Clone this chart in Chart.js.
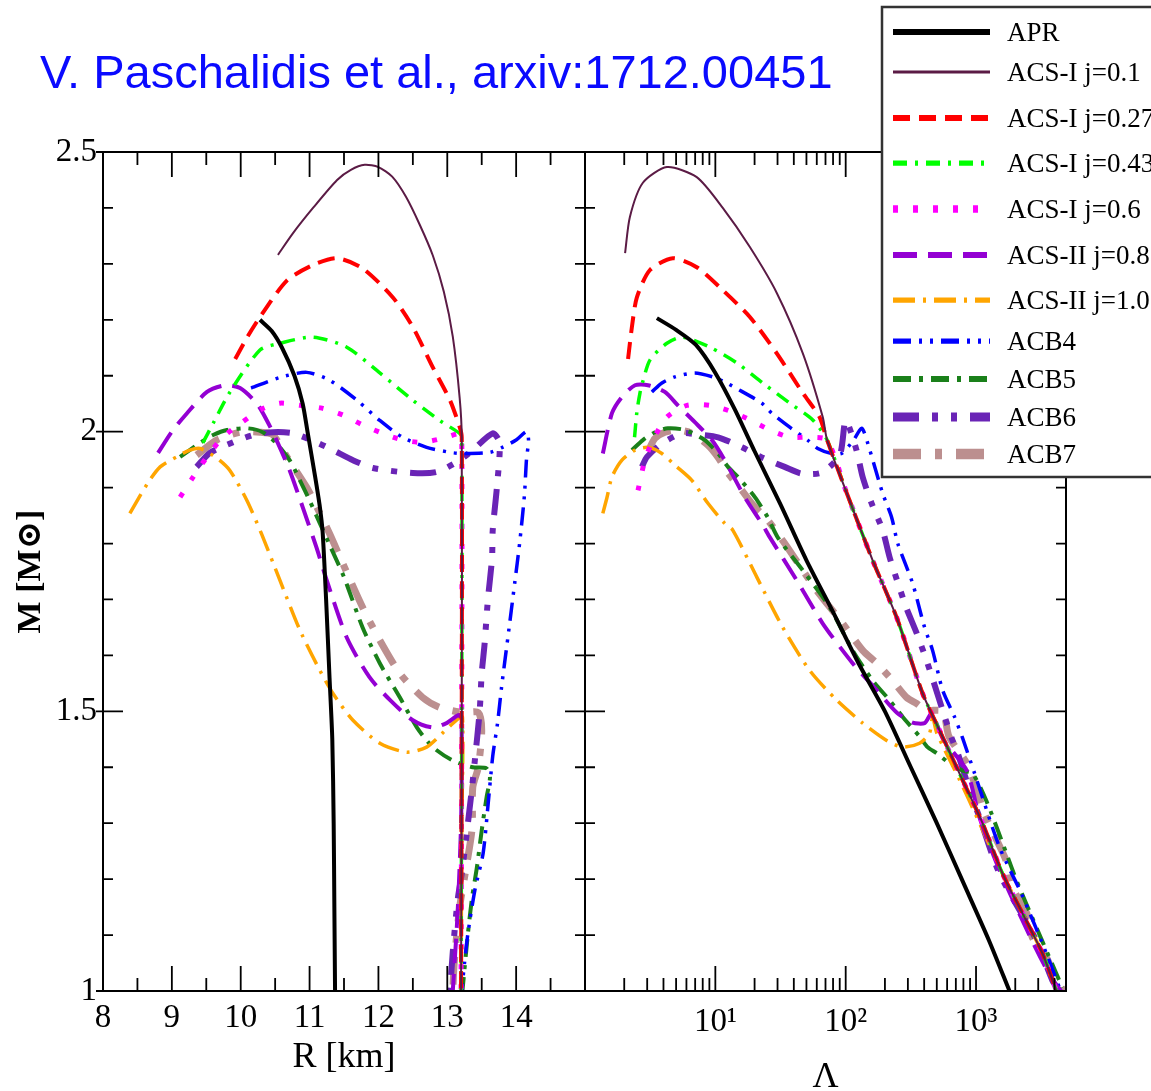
<!DOCTYPE html>
<html>
<head>
<meta charset="utf-8">
<script src="https://cdn.jsdelivr.net/npm/chart.js@4.4.1/dist/chart.umd.min.js"></script>
<style>
  html, body { margin: 0; padding: 0; background: #fff; }
  body { width: 1151px; height: 1091px; position: relative; overflow: hidden; }
  #ref { position: absolute; left: 40px; top: 47px; font: 47px 'Liberation Sans', Arial, sans-serif; line-height: 50px; color: #0a0aff; white-space: nowrap; }
  #left { position: absolute; left: 0; top: 0; }
  #right { position: absolute; left: 500px; top: 0; }
</style>
</head>
<body>
<canvas id="left" width="600" height="1091"></canvas>
<canvas id="right" width="651" height="1091"></canvas>
<div id="ref">V. Paschalidis et al., arxiv:1712.00451</div>
<script>
// series names and styles
const names = ['APR', 'ACS-I j=0.1', 'ACS-I j=0.27', 'ACS-I j=0.43', 'ACS-I j=0.6',
  'ACS-II j=0.8', 'ACS-II j=1.0', 'ACB4', 'ACB5', 'ACB6', 'ACB7'];
const colors = ['#000000', '#5b1b45', '#ff0000', '#00ff00', '#ff00ff',
  '#9400d3', '#ffa500', '#0000ff', '#1a801a', '#6a24b6', '#bc8f8f'];
const widths = [4, 2, 4, 3.5, 5, 4, 3.5, 3.5, 4, 6, 7];
const dashes = [[], [], [17, 9], [14, 8, 3, 8], [5, 15], [24, 11], [22, 8, 3, 8],
  [18, 8, 3, 8, 3, 8], [18, 8, 4, 8], [26, 13, 6, 13, 6, 13], [28, 14, 7, 14]];

// axis ranges
const rMin = 8, rMax = 15;
const lamMin = 1, lamMax = 4900;
const mMin = 1, mMax = 2.5;

// ---- left panel: [R (km), M (Msun)] ----
const acsTailRM = [[13.21, 1.99], [13.21, 1.5], [13.2, 1.0]];

const aprRM = [[10.28, 2.20], [10.45, 2.18], [10.6, 2.15], [10.78, 2.10], [10.9, 2.05], [10.97, 2.0],
  [11.08, 1.92], [11.15, 1.865], [11.19, 1.82], [11.24, 1.70], [11.29, 1.56], [11.33, 1.45],
  [11.35, 1.30], [11.36, 1.15], [11.37, 1.0]];
const acs01RM = [[10.54, 2.316], [10.76, 2.355], [11.05, 2.40], [11.4, 2.45], [11.6, 2.468], [11.8, 2.477],
  [12.0, 2.473], [12.2, 2.456], [12.4, 2.42], [12.6, 2.37], [12.79, 2.315], [12.95, 2.25], [13.08, 2.17],
  [13.18, 2.06], ...acsTailRM];
const acs027RM = [[9.92, 2.13], [10.1, 2.17], [10.28, 2.205], [10.67, 2.27], [11.05, 2.298], [11.4, 2.31],
  [11.77, 2.292], [12.21, 2.24], [12.5, 2.187], [12.79, 2.115], [13.04, 2.056], [13.18, 2.008], ...acsTailRM];
const acs043RM = [[9.45, 1.98], [9.6, 2.015], [9.84, 2.07], [10.28, 2.146], [10.57, 2.158], [11.05, 2.169],
  [11.54, 2.151], [12.02, 2.105], [12.5, 2.056], [12.89, 2.02], [13.18, 1.997], ...acsTailRM];
const acs06RM = [[9.12, 1.883], [9.31, 1.919], [9.51, 1.955], [9.74, 1.99], [10.02, 2.017], [10.3, 2.04],
  [10.57, 2.051], [10.86, 2.047], [11.18, 2.042], [11.48, 2.03], [11.77, 2.012], [12.06, 1.997],
  [12.35, 1.985], [12.64, 1.981], [12.93, 1.988], [13.18, 1.997], ...acsTailRM];
const acs208RM = [[8.8, 1.962], [9.0, 2.0], [9.22, 2.033], [9.51, 2.071], [9.77, 2.083], [9.99, 2.078],
  [10.23, 2.051], [10.38, 2.02], [10.52, 1.985], [10.71, 1.931], [10.9, 1.865], [11.1, 1.793],
  [11.25, 1.734], [11.54, 1.632], [11.87, 1.561], [12.17, 1.52], [12.5, 1.484], [12.79, 1.471],
  [12.99, 1.479], [13.18, 1.493], [13.21, 1.45], [13.2, 1.3], [13.15, 1.14], [13.08, 1.0]];
const acs210RM = [[8.39, 1.854], [8.65, 1.908], [8.83, 1.937], [9.07, 1.955], [9.26, 1.967], [9.41, 1.97],
  [9.65, 1.953], [9.84, 1.931], [10.09, 1.877], [10.31, 1.815], [10.57, 1.734], [10.86, 1.645],
  [11.15, 1.573], [11.34, 1.532], [11.63, 1.484], [12.02, 1.443], [12.41, 1.427], [12.7, 1.436],
  [12.93, 1.461], [13.13, 1.484], [13.22, 1.49], [13.21, 1.3], [13.2, 1.0]];
const acb4RM = [[10.15, 2.078], [10.57, 2.097], [10.96, 2.106], [11.29, 2.092], [11.69, 2.056], [12.02, 2.02],
  [12.35, 1.99], [12.7, 1.972], [13.04, 1.963], [13.22, 1.961], [13.62, 1.963], [13.8, 1.972],
  [14.0, 1.985], [14.15, 2.0], [14.18, 1.985], [14.15, 1.95], [14.12, 1.886], [14.05, 1.80],
  [13.98, 1.73], [13.88, 1.632], [13.79, 1.545], [13.73, 1.479], [13.66, 1.42], [13.59, 1.33],
  [13.52, 1.246], [13.4, 1.18], [13.3, 1.103], [13.25, 1.05], [13.21, 1.0]];
const acb5RM = [[9.12, 1.955], [9.41, 1.98], [9.6, 1.994], [9.8, 2.003], [10.1, 2.006], [10.32, 1.999],
  [10.52, 1.979], [10.71, 1.949], [10.86, 1.913], [11.0, 1.877], [11.15, 1.836], [11.3, 1.795],
  [11.5, 1.74], [11.77, 1.65], [12.02, 1.586], [12.31, 1.525], [12.56, 1.471], [12.79, 1.436],
  [13.08, 1.412], [13.37, 1.40], [13.57, 1.398], [13.62, 1.382], [13.57, 1.346], [13.5, 1.287],
  [13.43, 1.221], [13.36, 1.167], [13.3, 1.103], [13.22, 1.0]];
const acb6RM = [[9.36, 1.937], [9.55, 1.962], [9.89, 1.981], [10.18, 1.994], [10.47, 1.999], [10.76, 1.997],
  [11.1, 1.981], [11.34, 1.967], [11.63, 1.949], [11.92, 1.935], [12.5, 1.926], [12.85, 1.928],
  [13.18, 1.949], [13.37, 1.967], [13.66, 1.997], [13.76, 1.98], [13.72, 1.90], [13.66, 1.824],
  [13.65, 1.774], [13.59, 1.70], [13.54, 1.618], [13.5, 1.568], [13.47, 1.50], [13.4, 1.412],
  [13.36, 1.364], [13.28, 1.28], [13.21, 1.21], [13.15, 1.162], [13.08, 1.07], [13.04, 1.0]];
const acb7RM = [[9.36, 1.958], [9.65, 1.985], [9.99, 1.999], [10.28, 1.999], [10.47, 1.994], [10.67, 1.955],
  [10.96, 1.9], [11.15, 1.854], [11.29, 1.818], [11.48, 1.765], [11.77, 1.686], [12.02, 1.627],
  [12.31, 1.568], [12.64, 1.525], [12.89, 1.507], [13.22, 1.498], [13.45, 1.498], [13.5, 1.466],
  [13.45, 1.40], [13.37, 1.364], [13.36, 1.29], [13.25, 1.203], [13.18, 1.15], [13.1, 1.05], [13.08, 1.0]];

// ---- right panel: [Lambda, M (Msun)] ----
const acsTailLM = [[72, 1.985], [102, 1.89], [161, 1.77], [246, 1.668], [389, 1.532], [525, 1.466],
  [789, 1.377], [1122, 1.30], [1596, 1.21], [2271, 1.139], [3235, 1.067], [4140, 1.0]];

const aprLM = [[3.56, 2.203], [5.0, 2.182], [7.1, 2.155], [10, 2.105], [14.1, 2.04], [20, 1.965],
  [31.6, 1.87], [50, 1.77], [79, 1.68], [126, 1.585], [200, 1.50], [316, 1.40], [500, 1.30],
  [794, 1.195], [1259, 1.09], [1806, 1.0]];
const acs01LM = [[2.03, 2.319], [2.21, 2.384], [2.78, 2.445], [4.25, 2.473], [7.2, 2.455], [11.4, 2.40],
  [18.4, 2.33], [29.6, 2.248], [46.9, 2.14], [66.7, 2.026], ...acsTailLM];
const acs027LM = [[2.14, 2.13], [2.29, 2.187], [2.5, 2.24], [3.15, 2.289], [4.72, 2.31], [7.2, 2.294],
  [11.4, 2.253], [18.4, 2.205], [29.6, 2.14], [46.9, 2.069], [63, 2.026], ...acsTailLM];
const acs043LM = [[2.4, 1.99], [2.5, 2.035], [2.64, 2.069], [2.78, 2.09], [3.15, 2.128], [4.25, 2.158],
  [5.64, 2.169], [9.08, 2.151], [14.6, 2.123], [23.1, 2.087], [37.2, 2.051], [55.9, 2.021], ...acsTailLM];
const acs06LM = [[2.55, 1.895], [2.88, 1.949], [3.32, 1.985], [4.25, 2.026], [6.05, 2.047], [9.08, 2.047],
  [13.6, 2.035], [18.4, 2.021], [26.2, 2.003], [37.2, 1.99], [53, 1.99], ...acsTailLM];
const acs208LM = [[1.37, 1.961], [1.61, 2.033], [1.92, 2.062], [2.42, 2.083], [3.04, 2.083], [4.1, 2.071],
  [5.16, 2.047], [6.96, 2.017], [9.4, 1.985], [11.8, 1.949], [16.8, 1.883], [22.7, 1.836], [26.2, 1.811],
  [42.2, 1.734], [66.7, 1.657], [113, 1.586], [173, 1.538], [246, 1.498], [326, 1.48], [403, 1.479],
  [457, 1.496], [560, 1.45], [849, 1.394], [1064, 1.31], [1514, 1.216], [2690, 1.09], [3860, 1.019], [4500, 1.0]];
const acs210LM = [[1.37, 1.854], [1.47, 1.881], [1.61, 1.919], [1.92, 1.949], [2.42, 1.967], [3.04, 1.972],
  [3.89, 1.961], [4.9, 1.94], [6.6, 1.913], [8.77, 1.872], [11.8, 1.836], [13.6, 1.824], [20.8, 1.74],
  [32.9, 1.65], [53, 1.573], [85.3, 1.52], [135, 1.479], [206, 1.448], [274, 1.436], [369, 1.443],
  [440, 1.461], [464, 1.49], [500, 1.461], [750, 1.377], [1064, 1.30], [1514, 1.221], [2150, 1.15],
  [3070, 1.078], [3860, 1.019], [4300, 1.0]];
const acb4LM = [[3.26, 2.071], [3.89, 2.087], [4.9, 2.098], [6.96, 2.105], [9.55, 2.098], [11.8, 2.089],
  [15.4, 2.074], [22.7, 2.051], [27.1, 2.033], [37.2, 2.008], [51, 1.985], [61, 1.97], [78, 1.961],
  [93, 1.961], [115, 1.985], [133, 2.006], [153, 1.967], [192, 1.89], [225, 1.847], [251, 1.80],
  [326, 1.729], [403, 1.65], [464, 1.609], [554, 1.538], [684, 1.49], [789, 1.452], [975, 1.389],
  [1514, 1.257], [2230, 1.174], [3470, 1.067], [4360, 1.006]];
const acb5LM = [[2.29, 1.967], [2.78, 1.985], [3.44, 1.999], [4.32, 2.006], [5.84, 2.003], [8.3, 1.985],
  [10.5, 1.961], [12.5, 1.937], [14.9, 1.919], [20.1, 1.883], [25.2, 1.847], [30.1, 1.811], [46.9, 1.752],
  [75.4, 1.686], [113, 1.609], [161, 1.555], [217, 1.52], [274, 1.49], [369, 1.455], [425, 1.436],
  [500, 1.425], [627, 1.407], [789, 1.394], [940, 1.389], [1200, 1.34], [1710, 1.246], [2040, 1.198],
  [2900, 1.114], [3650, 1.06], [4600, 1.006]];
const acb6LM = [[2.73, 1.937], [2.99, 1.955], [3.89, 1.979], [5.54, 1.997], [7.35, 1.995], [10.5, 1.99],
  [16, 1.972], [22.7, 1.954], [34, 1.937], [46, 1.925], [65.5, 1.927], [90, 1.958], [100, 2.02],
  [121, 1.967], [135, 1.919], [158, 1.872], [192, 1.824], [217, 1.776], [251, 1.73], [293, 1.684],
  [350, 1.64], [417, 1.591], [481, 1.547], [554, 1.502], [648, 1.453], [724, 1.425], [892, 1.359],
  [1064, 1.31], [1514, 1.21], [2910, 1.09], [3850, 1.019], [4400, 1.0]];
const acb7LM = [[3.15, 1.972], [3.44, 1.988], [4.1, 1.999], [5.16, 2.003], [6.6, 1.997], [8.77, 1.976],
  [10.5, 1.954], [12.5, 1.926], [16, 1.895], [19, 1.872], [25.2, 1.842], [34.1, 1.80], [46.9, 1.752],
  [60, 1.716], [95, 1.657], [135, 1.609], [173, 1.586], [229, 1.555], [293, 1.525], [350, 1.514],
  [417, 1.502], [554, 1.50], [620, 1.455], [849, 1.407], [1000, 1.364], [1160, 1.317], [1440, 1.27],
  [1700, 1.233], [1900, 1.185], [2450, 1.139], [2700, 1.096], [3470, 1.06], [4140, 1.019], [4700, 1.0]];

const leftSeries = [aprRM, acs01RM, acs027RM, acs043RM, acs06RM, acs208RM, acs210RM, acb4RM, acb5RM, acb6RM, acb7RM];
const rightSeries = [aprLM, acs01LM, acs027LM, acs043LM, acs06LM, acs208LM, acs210LM, acb4LM, acb5LM, acb6LM, acb7LM];

const serif = "'Liberation Serif', 'Times New Roman', 'DejaVu Serif', serif";

function makeDatasets(series) {
  return series.map((pts, i) => ({
    label: names[i],
    data: pts,
    borderColor: colors[i],
    borderWidth: widths[i],
    borderDash: dashes[i],
    pointRadius: 0,
    fill: false,
    tension: 0.25
  }));
}

// tick marks drawn inward on all four sides (grace style)
function stepMarks(min, max, step, every) {
  const out = [];
  const n = Math.round((max - min) / step);
  for (let i = 0; i <= n; i++) out.push({ v: min + i * step, major: i % every === 0 });
  return out;
}
function logMarks(min, max) {
  const out = [];
  for (let p = 0; p < 4; p++) {
    for (let k = 1; k < 10; k++) {
      const v = k * Math.pow(10, p);
      if (v >= min && v <= max) out.push({ v, major: k === 1 });
    }
  }
  return out;
}
const mMarks = stepMarks(mMin, mMax, 0.1, 5);

const frameTicks = {
  id: 'frameTicks',
  afterDatasetsDraw(chart, args, opts) {
    const { ctx, chartArea: a } = chart;
    const x = chart.scales.x, y = chart.scales.y;
    ctx.save();
    ctx.strokeStyle = '#000';
    ctx.lineWidth = 1.8;
    ctx.beginPath();
    opts.xMarks.forEach(t => {
      const px = x.getPixelForValue(t.v);
      const len = t.major ? 25 : 13;
      ctx.moveTo(px, a.bottom); ctx.lineTo(px, a.bottom - len);
      ctx.moveTo(px, a.top); ctx.lineTo(px, a.top + len);
    });
    mMarks.forEach(t => {
      const py = y.getPixelForValue(t.v);
      const len = t.major ? 20 : 10;
      const out = (t.major && opts.outLeft) ? 7 : 0;
      ctx.moveTo(a.left - out, py); ctx.lineTo(a.left + len, py);
      ctx.moveTo(a.right, py); ctx.lineTo(a.right - len, py);
    });
    ctx.stroke();
    ctx.lineWidth = 2;
    ctx.strokeRect(a.left, a.top, a.right - a.left, a.bottom - a.top);
    ctx.restore();
  }
};

const legendBox = {
  id: 'legendBox',
  afterDraw(chart, args, opts) {
    const ctx = chart.ctx;
    ctx.save();
    ctx.fillStyle = '#fff';
    ctx.fillRect(opts.left, opts.top, opts.width, opts.height);
    ctx.strokeStyle = '#333';
    ctx.lineWidth = 2.5;
    ctx.strokeRect(opts.left, opts.top, opts.width, opts.height);
    ctx.font = '27px ' + serif;
    ctx.textBaseline = 'middle';
    chart.data.datasets.forEach((ds, i) => {
      const ry = opts.rows[i];
      ctx.strokeStyle = ds.borderColor;
      ctx.lineWidth = ds.borderWidth * 1.5;
      ctx.setLineDash(ds.borderDash);
      ctx.beginPath();
      ctx.moveTo(opts.left + 11, ry);
      ctx.lineTo(opts.left + 108, ry);
      ctx.stroke();
      ctx.setLineDash([]);
      ctx.fillStyle = '#000';
      ctx.fillText(ds.label, opts.left + 125, ry + 2);
    });
    ctx.restore();
  }
};

const axisFont = { family: serif, size: 33 };

// left: M vs R
new Chart(document.getElementById('left'), {
  type: 'line',
  data: { datasets: makeDatasets(leftSeries) },
  options: {
    responsive: false,
    animation: false,
    layout: { padding: { top: 152, right: 15, left: 0, bottom: 0 } },
    plugins: {
      legend: { display: false },
      tooltip: { enabled: false },
      frameTicks: { xMarks: stepMarks(rMin, rMax, 0.5, 2), outLeft: true }
    },
    scales: {
      x: {
        type: 'linear', min: rMin, max: rMax,
        grid: { display: false, drawTicks: false },
        border: { display: false },
        ticks: {
          stepSize: 1, padding: 8, color: '#000', font: axisFont, maxRotation: 0, autoSkip: false,
          callback: v => (v < rMax ? String(v) : '')
        },
        title: { display: true, text: 'R [km]', color: '#000', font: { family: serif, size: 36 }, padding: { top: 0, bottom: 12 } },
        afterFit: s => { s.height = 100; }
      },
      y: {
        type: 'linear', min: mMin, max: mMax,
        grid: { display: false, drawTicks: false },
        border: { display: false },
        ticks: { stepSize: 0.5, padding: 6, color: '#000', font: axisFont, callback: v => String(v) },
        title: { display: true, text: 'M [M\u2299]', color: '#000', font: { family: serif, size: 34, weight: 'bold' }, padding: { top: 11, bottom: 0 } },
        afterFit: s => { s.width = 103; }
      }
    }
  },
  plugins: [frameTicks]
});

// right: M vs tidal deformability
const supers = { 1: '\u00b9', 2: '\u00b2', 3: '\u00b3' };
new Chart(document.getElementById('right'), {
  type: 'line',
  data: { datasets: makeDatasets(rightSeries) },
  options: {
    responsive: false,
    animation: false,
    layout: { padding: { top: 152, right: 85, left: 85, bottom: 0 } },
    plugins: {
      legend: { display: false },
      tooltip: { enabled: false },
      frameTicks: { xMarks: logMarks(lamMin, lamMax), outLeft: false },
      legendBox: { left: 382, top: 7, width: 300, height: 470, rows: [32, 72, 118, 163, 209, 255, 300, 341, 379, 417, 454] }
    },
    scales: {
      x: {
        type: 'logarithmic', min: lamMin, max: lamMax,
        grid: { display: false, drawTicks: false },
        border: { display: false },
        ticks: {
          padding: 12, color: '#000', font: axisFont, maxRotation: 0, autoSkip: false,
          callback: v => {
            const e = Math.log10(v);
            const r = Math.round(e);
            return (Math.abs(e - r) < 1e-9 && r >= 1) ? '10' + supers[r] : '';
          }
        },
        title: { display: true, text: '\u039b', color: '#000', font: { family: serif, size: 36, lineHeight: 1 }, padding: { top: 0, bottom: -5 } },
        afterFit: s => { s.height = 100; }
      },
      y: { type: 'linear', min: mMin, max: mMax, display: false }
    }
  },
  plugins: [frameTicks, legendBox]
});
</script>
</body>
</html>
